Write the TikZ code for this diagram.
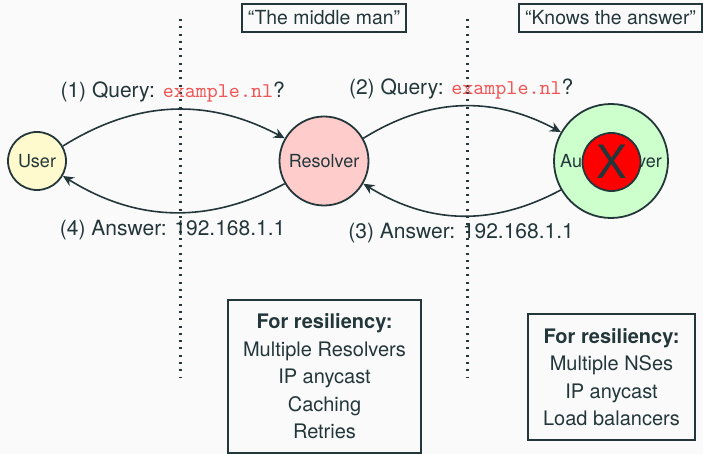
\documentclass[tikz,border=0pt]{standalone}
\usepackage{fontspec}
\setmainfont{TeX Gyre Heros}
\usetikzlibrary{arrows.meta,positioning,calc}
\definecolor{inkdark}{HTML}{23373B}
\definecolor{pagefill}{HTML}{FAFAFA}
\definecolor{userfill}{HTML}{FFFACD}
\definecolor{resolverfill}{HTML}{FFCCCC}
\definecolor{authfill}{HTML}{CCFFCC}
\definecolor{downred}{HTML}{FF0000}
\definecolor{queryred}{HTML}{F25555}
\newcommand{\qname}[1]{\textcolor{queryred}{\texttt{#1}}}
\tikzset{
  host/.style={circle,draw=inkdark,line width=0.9pt,text=inkdark,inner sep=0pt,font=\fontsize{9}{11}\selectfont},
  userhost/.style={host,fill=userfill,minimum size=29pt},
  resolverhost/.style={host,fill=resolverfill,minimum size=44.5pt},
  authhost/.style={host,fill=authfill,minimum size=57pt},
  downmark/.style={host,fill=downred,minimum size=29pt,font=\fontsize{23}{27}\selectfont},
  tagbox/.style={draw=inkdark,line width=0.9pt,text=inkdark,inner xsep=3pt,minimum height=14pt,font=\fontsize{9.7}{12}\selectfont},
  notebox/.style={draw=inkdark,line width=0.9pt,text=inkdark,align=center,inner xsep=7.7pt,inner ysep=7pt,font=\fontsize{10}{13.75}\selectfont},
  msg/.style={-{Stealth[length=5.5pt,width=5pt]},line width=0.8pt,draw=inkdark},
  msglabel/.style={text=inkdark,font=\fontsize{10.5}{12.5}\selectfont},
  divider/.style={draw=inkdark,line width=1.1pt,dash pattern=on 1pt off 2.65pt}
}
\begin{document}
\begin{tikzpicture}[x=0.5pt,y=-0.5pt]
  \fill[pagefill] (0,0) rectangle (703,454);
  \useasboundingbox (0,0) rectangle (703,454);
  % zone borders
  \coordinate (divAtop) at (180.5,19);
  \coordinate (divAbot) at (180.5,377);
  \coordinate (divBtop) at (467.5,19);
  \coordinate (divBbot) at (467.5,377);
  \draw[divider] (divAtop) -- (divAbot);
  \draw[divider] (divBtop) -- (divBbot);
  % hosts
  \node[userhost] (user) at (37,161) {User};
  \node[resolverhost] (res) at (324,161) {Resolver};
  \node[authhost] (auth) at (611,161) {Auth. Server};
  \node[downmark] (down) at (611.5,162) {X};
  % roles
  \node[tagbox] (middle) at (324,18) {“The middle man”};
  \node[tagbox] (knows) at (610.5,18) {“Knows the answer”};
  % messages
  \draw[msg] (user) to[bend left=30] node[msglabel,above] {(1) Query: \qname{example.nl}?} (res);
  \draw[msg] (res) to[bend left=30] node[msglabel,above] {(2) Query: \qname{example.nl}?} (auth);
  \draw[msg] (auth) to[bend left=30] node[msglabel,below] {(3) Answer: 192.168.1.1} (res);
  \draw[msg] (res) to[bend left=30] node[msglabel,below] {(4) Answer: 192.168.1.1} (user);
  % resiliency notes
  \node[notebox] (resnote) at (324.5,376.5) {\textbf{For resiliency:}\\Multiple Resolvers\\IP anycast\\Caching\\Retries};
  \node[notebox] (authnote) at (611.5,377) {\textbf{For resiliency:}\\Multiple NSes\\IP anycast\\Load balancers};
\end{tikzpicture}
\end{document}
